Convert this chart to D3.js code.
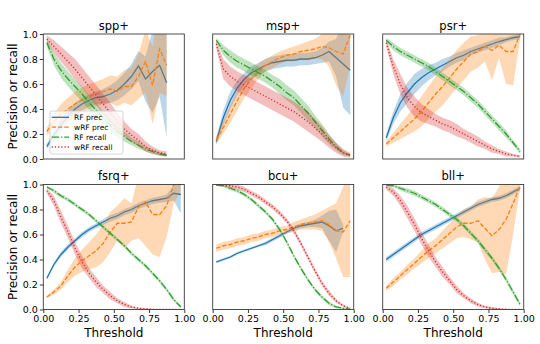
<!DOCTYPE html>
<html lang="en">

<head>
    <meta charset="UTF-8">
    <title>RF thresholds</title>
    <script src="https://cdn.jsdelivr.net/npm/d3@7"></script>
    <style>
        body { margin: 0; background: #fff; }
        text { font-family: "DejaVu Sans", sans-serif; fill: #000; }
    </style>
</head>

<body>
    <script>
        var thresholds = [0.025, 0.075, 0.125, 0.175, 0.225, 0.275, 0.325, 0.375, 0.425, 0.475,
            0.525, 0.575, 0.625, 0.675, 0.725, 0.775, 0.825, 0.875, 0.925, 0.975];
        var classes = ["spp+", "msp+", "psr+", "fsrq+", "bcu+", "bll+"];
        var seriesNames = ["RF prec", "wRF prec", "RF recall", "wRF recall"];
        var yTicks = [0, 0.2, 0.4, 0.6, 0.8, 1.0];
        var xTicks = [0, 0.25, 0.5, 0.75, 1.0];

        // one row per class, in the order of classes
        var rfPrec = [
            [0.10, 0.19, 0.27, 0.34, 0.40, 0.44, 0.47, 0.49, 0.50, 0.52, 0.55, 0.60, 0.66, 0.745, 0.64, 0.70, 0.75, 0.61, null, null],
            [0.14, 0.33, 0.47, 0.57, 0.64, 0.69, 0.72, 0.75, 0.77, 0.78, 0.79, 0.79, 0.80, 0.80, 0.81, 0.83, 0.86, 0.81, 0.76, 0.71],
            [0.17, 0.33, 0.45, 0.53, 0.60, 0.65, 0.69, 0.72, 0.75, 0.78, 0.81, 0.83, 0.86, 0.88, 0.90, 0.92, 0.94, 0.955, 0.97, 0.98],
            [0.25, 0.36, 0.44, 0.50, 0.55, 0.60, 0.64, 0.67, 0.70, 0.73, 0.75, 0.78, 0.80, 0.83, 0.85, 0.87, 0.88, 0.89, 0.93, 0.92],
            [0.38, 0.40, 0.42, 0.45, 0.47, 0.49, 0.51, 0.53, 0.56, 0.59, 0.62, 0.65, 0.67, 0.68, 0.69, 0.70, 0.67, 0.63, 0.65, null],
            [0.40, 0.44, 0.48, 0.52, 0.56, 0.60, 0.63, 0.66, 0.69, 0.72, 0.75, 0.78, 0.81, 0.84, 0.86, 0.88, 0.89, 0.91, 0.94, 0.97]
        ];
        var rfPrecSd = [
            [0.02, 0.04, 0.05, 0.05, 0.05, 0.05, 0.05, 0.05, 0.06, 0.07, 0.08, 0.09, 0.10, 0.12, 0.18, 0.33, 0.25, 0.44, null, null],
            [0.03, 0.06, 0.07, 0.06, 0.05, 0.05, 0.05, 0.05, 0.05, 0.05, 0.05, 0.05, 0.05, 0.05, 0.05, 0.06, 0.08, 0.15, 0.35, 0.36],
            [0.03, 0.05, 0.07, 0.08, 0.08, 0.07, 0.06, 0.05, 0.05, 0.04, 0.04, 0.04, 0.03, 0.03, 0.03, 0.03, 0.03, 0.02, 0.02, 0.02],
            [0.01, 0.015, 0.02, 0.02, 0.02, 0.02, 0.02, 0.02, 0.025, 0.025, 0.025, 0.025, 0.025, 0.025, 0.025, 0.025, 0.025, 0.03, 0.06, 0.15],
            [0.01, 0.01, 0.01, 0.01, 0.01, 0.01, 0.01, 0.015, 0.015, 0.015, 0.015, 0.015, 0.02, 0.02, 0.03, 0.05, 0.12, 0.17, 0.03, null],
            [0.02, 0.02, 0.02, 0.02, 0.02, 0.02, 0.02, 0.02, 0.02, 0.02, 0.02, 0.02, 0.02, 0.02, 0.02, 0.02, 0.02, 0.02, 0.02, 0.02]
        ];
        var wrfPrec = [
            [0.22, 0.30, 0.36, 0.40, 0.44, 0.47, 0.50, 0.52, 0.54, 0.56, 0.54, 0.58, 0.58, 0.66, 0.78, 0.59, 0.88, 0.75, null, null],
            [0.15, 0.25, 0.36, 0.47, 0.57, 0.64, 0.70, 0.75, 0.78, 0.81, 0.83, 0.84, 0.86, 0.87, 0.88, 0.90, 0.89, 0.86, 0.84, 0.99],
            [0.12, 0.17, 0.22, 0.27, 0.32, 0.38, 0.45, 0.52, 0.58, 0.65, 0.72, 0.78, 0.84, 0.86, 0.90, 0.87, 0.91, 0.86, 0.86, 1.0],
            [0.10, 0.14, 0.19, 0.27, 0.34, 0.39, 0.43, 0.47, 0.53, 0.62, 0.69, 0.69, 0.70, 0.82, 0.86, 0.76, 0.76, 0.83, 1.0, 1.0],
            [0.49, 0.51, 0.52, 0.54, 0.55, 0.57, 0.58, 0.60, 0.61, 0.63, 0.64, 0.66, 0.68, 0.69, 0.70, 0.71, 0.68, 0.63, 0.62, 0.71],
            [0.17, 0.22, 0.27, 0.32, 0.37, 0.42, 0.47, 0.51, 0.56, 0.61, 0.66, 0.69, 0.69, 0.71, 0.65, 0.59, 0.64, 0.72, 0.85, 0.99]
        ];
        var wrfPrecSd = [
            [0.03, 0.06, 0.08, 0.09, 0.10, 0.10, 0.10, 0.10, 0.10, 0.11, 0.12, 0.13, 0.15, 0.18, 0.25, 0.31, 0.35, 0.25, null, null],
            [0.03, 0.05, 0.07, 0.08, 0.08, 0.07, 0.06, 0.05, 0.05, 0.05, 0.05, 0.06, 0.06, 0.07, 0.08, 0.10, 0.15, 0.27, 0.34, 0.25],
            [0.02, 0.04, 0.06, 0.08, 0.10, 0.12, 0.13, 0.14, 0.15, 0.15, 0.15, 0.15, 0.14, 0.13, 0.12, 0.24, 0.10, 0.26, 0.27, 0.04],
            [0.01, 0.02, 0.03, 0.05, 0.07, 0.09, 0.11, 0.13, 0.15, 0.16, 0.14, 0.20, 0.15, 0.25, 0.35, 0.32, 0.34, 0.25, 0.15, 0.05],
            [0.03, 0.03, 0.03, 0.03, 0.03, 0.03, 0.03, 0.03, 0.03, 0.03, 0.03, 0.04, 0.04, 0.05, 0.06, 0.08, 0.14, 0.22, 0.36, 0.45],
            [0.02, 0.03, 0.03, 0.04, 0.04, 0.05, 0.06, 0.06, 0.07, 0.08, 0.09, 0.11, 0.13, 0.17, 0.25, 0.30, 0.34, 0.44, 0.25, 0.02]
        ];
        var rfRecall = [
            [0.93, 0.80, 0.71, 0.64, 0.58, 0.52, 0.45, 0.39, 0.33, 0.27, 0.22, 0.18, 0.14, 0.11, 0.08, 0.06, 0.04, 0.03, null, null],
            [0.95, 0.87, 0.82, 0.78, 0.75, 0.72, 0.69, 0.66, 0.62, 0.58, 0.53, 0.49, 0.43, 0.37, 0.30, 0.23, 0.16, 0.10, 0.05, 0.03],
            [0.95, 0.90, 0.86, 0.83, 0.80, 0.77, 0.74, 0.70, 0.66, 0.62, 0.58, 0.54, 0.49, 0.44, 0.38, 0.32, 0.26, 0.20, 0.13, 0.06],
            [0.98, 0.95, 0.91, 0.88, 0.84, 0.80, 0.76, 0.71, 0.66, 0.61, 0.56, 0.51, 0.45, 0.40, 0.35, 0.29, 0.23, 0.16, 0.08, 0.02],
            [0.995, 0.99, 0.97, 0.95, 0.92, 0.88, 0.83, 0.78, 0.72, 0.64, 0.54, 0.43, 0.33, 0.24, 0.16, 0.10, 0.05, 0.02, 0.01, 0.003],
            [0.995, 0.99, 0.97, 0.95, 0.93, 0.90, 0.87, 0.84, 0.80, 0.76, 0.72, 0.67, 0.61, 0.55, 0.48, 0.41, 0.33, 0.24, 0.14, 0.04]
        ];
        var rfRecallSd = [
            [0.03, 0.05, 0.06, 0.06, 0.06, 0.06, 0.06, 0.06, 0.05, 0.05, 0.05, 0.04, 0.03, 0.03, 0.02, 0.02, 0.015, 0.01, null, null],
            [0.02, 0.04, 0.05, 0.05, 0.05, 0.05, 0.05, 0.05, 0.05, 0.06, 0.06, 0.06, 0.06, 0.06, 0.05, 0.05, 0.04, 0.03, 0.02, 0.01],
            [0.02, 0.03, 0.03, 0.03, 0.03, 0.03, 0.03, 0.03, 0.03, 0.03, 0.03, 0.03, 0.03, 0.03, 0.03, 0.03, 0.03, 0.03, 0.02, 0.02],
            [0.01, 0.015, 0.015, 0.015, 0.015, 0.015, 0.015, 0.015, 0.015, 0.015, 0.015, 0.015, 0.015, 0.015, 0.015, 0.015, 0.015, 0.015, 0.015, 0.01],
            [0.005, 0.01, 0.015, 0.015, 0.015, 0.015, 0.015, 0.015, 0.015, 0.015, 0.015, 0.015, 0.015, 0.015, 0.015, 0.015, 0.015, 0.01, 0.005, 0.003],
            [0.005, 0.01, 0.015, 0.02, 0.02, 0.02, 0.02, 0.02, 0.02, 0.02, 0.02, 0.02, 0.02, 0.02, 0.02, 0.02, 0.02, 0.02, 0.02, 0.015]
        ];
        var wrfRecall = [
            [0.96, 0.90, 0.84, 0.78, 0.72, 0.65, 0.58, 0.51, 0.44, 0.37, 0.30, 0.24, 0.19, 0.15, 0.10, 0.07, 0.05, 0.04, null, null],
            [0.92, 0.72, 0.66, 0.62, 0.59, 0.56, 0.53, 0.50, 0.47, 0.44, 0.41, 0.38, 0.34, 0.30, 0.25, 0.20, 0.14, 0.09, 0.05, 0.03],
            [0.93, 0.74, 0.60, 0.49, 0.42, 0.37, 0.34, 0.31, 0.28, 0.26, 0.23, 0.20, 0.17, 0.14, 0.11, 0.08, 0.06, 0.04, 0.03, 0.02],
            [0.95, 0.87, 0.74, 0.62, 0.49, 0.38, 0.29, 0.22, 0.16, 0.11, 0.07, 0.04, 0.02, 0.01, 0.005, 0.002, 0.001, 0, 0, 0],
            [1.0, 0.995, 0.99, 0.98, 0.96, 0.93, 0.90, 0.86, 0.82, 0.77, 0.71, 0.63, 0.53, 0.42, 0.31, 0.21, 0.13, 0.07, 0.03, 0.01],
            [0.98, 0.94, 0.87, 0.78, 0.68, 0.57, 0.47, 0.38, 0.30, 0.23, 0.16, 0.11, 0.07, 0.04, 0.02, 0.01, 0.005, 0.002, 0.001, 0]
        ];
        var wrfRecallSd = [
            [0.03, 0.05, 0.06, 0.07, 0.08, 0.08, 0.08, 0.08, 0.08, 0.08, 0.07, 0.06, 0.05, 0.05, 0.04, 0.03, 0.02, 0.02, null, null],
            [0.03, 0.08, 0.08, 0.08, 0.08, 0.08, 0.08, 0.08, 0.08, 0.08, 0.08, 0.08, 0.08, 0.08, 0.07, 0.06, 0.05, 0.04, 0.03, 0.02],
            [0.03, 0.06, 0.08, 0.08, 0.08, 0.07, 0.06, 0.05, 0.05, 0.05, 0.05, 0.04, 0.04, 0.04, 0.03, 0.03, 0.02, 0.02, 0.01, 0.01],
            [0.02, 0.04, 0.05, 0.05, 0.05, 0.05, 0.04, 0.04, 0.03, 0.03, 0.02, 0.02, 0.01, 0.005, 0.003, 0.002, 0.001, 0, 0, 0],
            [0.005, 0.01, 0.015, 0.02, 0.02, 0.02, 0.02, 0.02, 0.02, 0.02, 0.02, 0.02, 0.02, 0.02, 0.02, 0.02, 0.02, 0.015, 0.01, 0.005],
            [0.02, 0.03, 0.04, 0.05, 0.05, 0.05, 0.05, 0.04, 0.04, 0.03, 0.03, 0.02, 0.02, 0.015, 0.01, 0.01, 0.005, 0.002, 0.001, 0]
        ];

        var colors = ["#1f77b4", "#ff7f0e", "#2ca02c", "#d62728"];
        var dashes = ["none", "4.4,1.9", "7.5,1.9,1.2,1.9", "1.2,2"];
        var means = [rfPrec, wrfPrec, rfRecall, wrfRecall];
        var sds = [rfPrecSd, wrfPrecSd, rfRecallSd, wrfRecallSd];

        var width = 540, height = 344;
        var colX = [43.3, 212.7, 382.7];
        var rowY = [34, 184.5];
        var pw = 141, ph = 125;

        var x = d3.scaleLinear().domain([0, 1]).range([0, pw]);
        var y = d3.scaleLinear().domain([0, 1]).range([ph, 0]);

        var svg = d3.select("body")
            .append("svg")
            .attr("width", width)
            .attr("height", height);

        classes.forEach(function (name, k) {
            var col = k % 3, row = Math.floor(k / 3);
            var g = svg.append("g")
                .attr("transform", "translate(" + colX[col] + "," + rowY[row] + ")");

            svg.append("clipPath").attr("id", "clip" + k)
                .append("rect").attr("width", pw).attr("height", ph);

            var plot = g.append("g").attr("clip-path", "url(#clip" + k + ")");

            means.forEach(function (m, s) {
                var pts = thresholds.map(function (t, i) {
                    return { t: t, v: m[k][i], sd: sds[s][k][i] };
                });
                var area = d3.area()
                    .defined(function (d) { return d.v != null; })
                    .x(function (d) { return x(d.t); })
                    .y0(function (d) { return y(d.v - d.sd); })
                    .y1(function (d) { return y(d.v + d.sd); });
                var line = d3.line()
                    .defined(function (d) { return d.v != null; })
                    .x(function (d) { return x(d.t); })
                    .y(function (d) { return y(d.v); });
                plot.append("path")
                    .attr("d", area(pts))
                    .attr("fill", colors[s])
                    .attr("fill-opacity", 0.3);
                plot.append("path")
                    .attr("d", line(pts))
                    .attr("fill", "none")
                    .attr("stroke", colors[s])
                    .attr("stroke-width", 1.3)
                    .attr("stroke-dasharray", dashes[s]);
            });

            g.append("rect")
                .attr("width", pw).attr("height", ph)
                .attr("fill", "none")
                .attr("stroke", "#3a3a3a")
                .attr("stroke-width", 0.9);

            g.append("text")
                .attr("x", pw / 2)
                .attr("y", row == 0 ? -4.5 : -4.5)
                .attr("text-anchor", "middle")
                .style("font-size", "11.5px")
                .text(name);

            if (col == 0) {
                var ya = g.append("g")
                    .call(d3.axisLeft(y).tickValues(yTicks).tickFormat(d3.format(".1f")).tickSize(3.5).tickPadding(2));
                ya.select(".domain").remove();
                ya.selectAll("line").attr("stroke", "#3a3a3a");
                ya.selectAll("text").style("font-size", "9.5px");

                g.append("text")
                    .attr("transform", "translate(-26.5," + (ph / 2) + ") rotate(-90)")
                    .attr("text-anchor", "middle")
                    .style("font-size", "12px")
                    .text("Precision or recall");
            }
            if (row == 1) {
                var xa = g.append("g")
                    .attr("transform", "translate(0," + ph + ")")
                    .call(d3.axisBottom(x).tickValues(xTicks).tickFormat(d3.format(".2f")).tickSize(3.5).tickPadding(2));
                xa.select(".domain").remove();
                xa.selectAll("line").attr("stroke", "#3a3a3a");
                xa.selectAll("text").style("font-size", "9.5px");

                g.append("text")
                    .attr("x", pw / 2)
                    .attr("y", ph + 27)
                    .attr("text-anchor", "middle")
                    .style("font-size", "12px")
                    .text("Threshold");
            }

            if (k == 0) {
                var lg = g.append("g").attr("transform", "translate(6.7,77)");
                lg.append("rect")
                    .attr("width", 73).attr("height", 43)
                    .attr("rx", 2)
                    .attr("fill", "#fff").attr("fill-opacity", 0.8)
                    .attr("stroke", "#cccccc").attr("stroke-width", 0.8);
                seriesNames.forEach(function (n, s) {
                    var ly = 6.3 + s * 9.9;
                    lg.append("line")
                        .attr("x1", 1.7).attr("x2", 19)
                        .attr("y1", ly).attr("y2", ly)
                        .attr("stroke", colors[s])
                        .attr("stroke-width", 1.3)
                        .attr("stroke-dasharray", dashes[s]);
                    lg.append("text")
                        .attr("x", 24)
                        .attr("y", ly + 2.7)
                        .style("font-size", "7.5px")
                        .text(n);
                });
            }
        });
    </script>
</body>

</html>
